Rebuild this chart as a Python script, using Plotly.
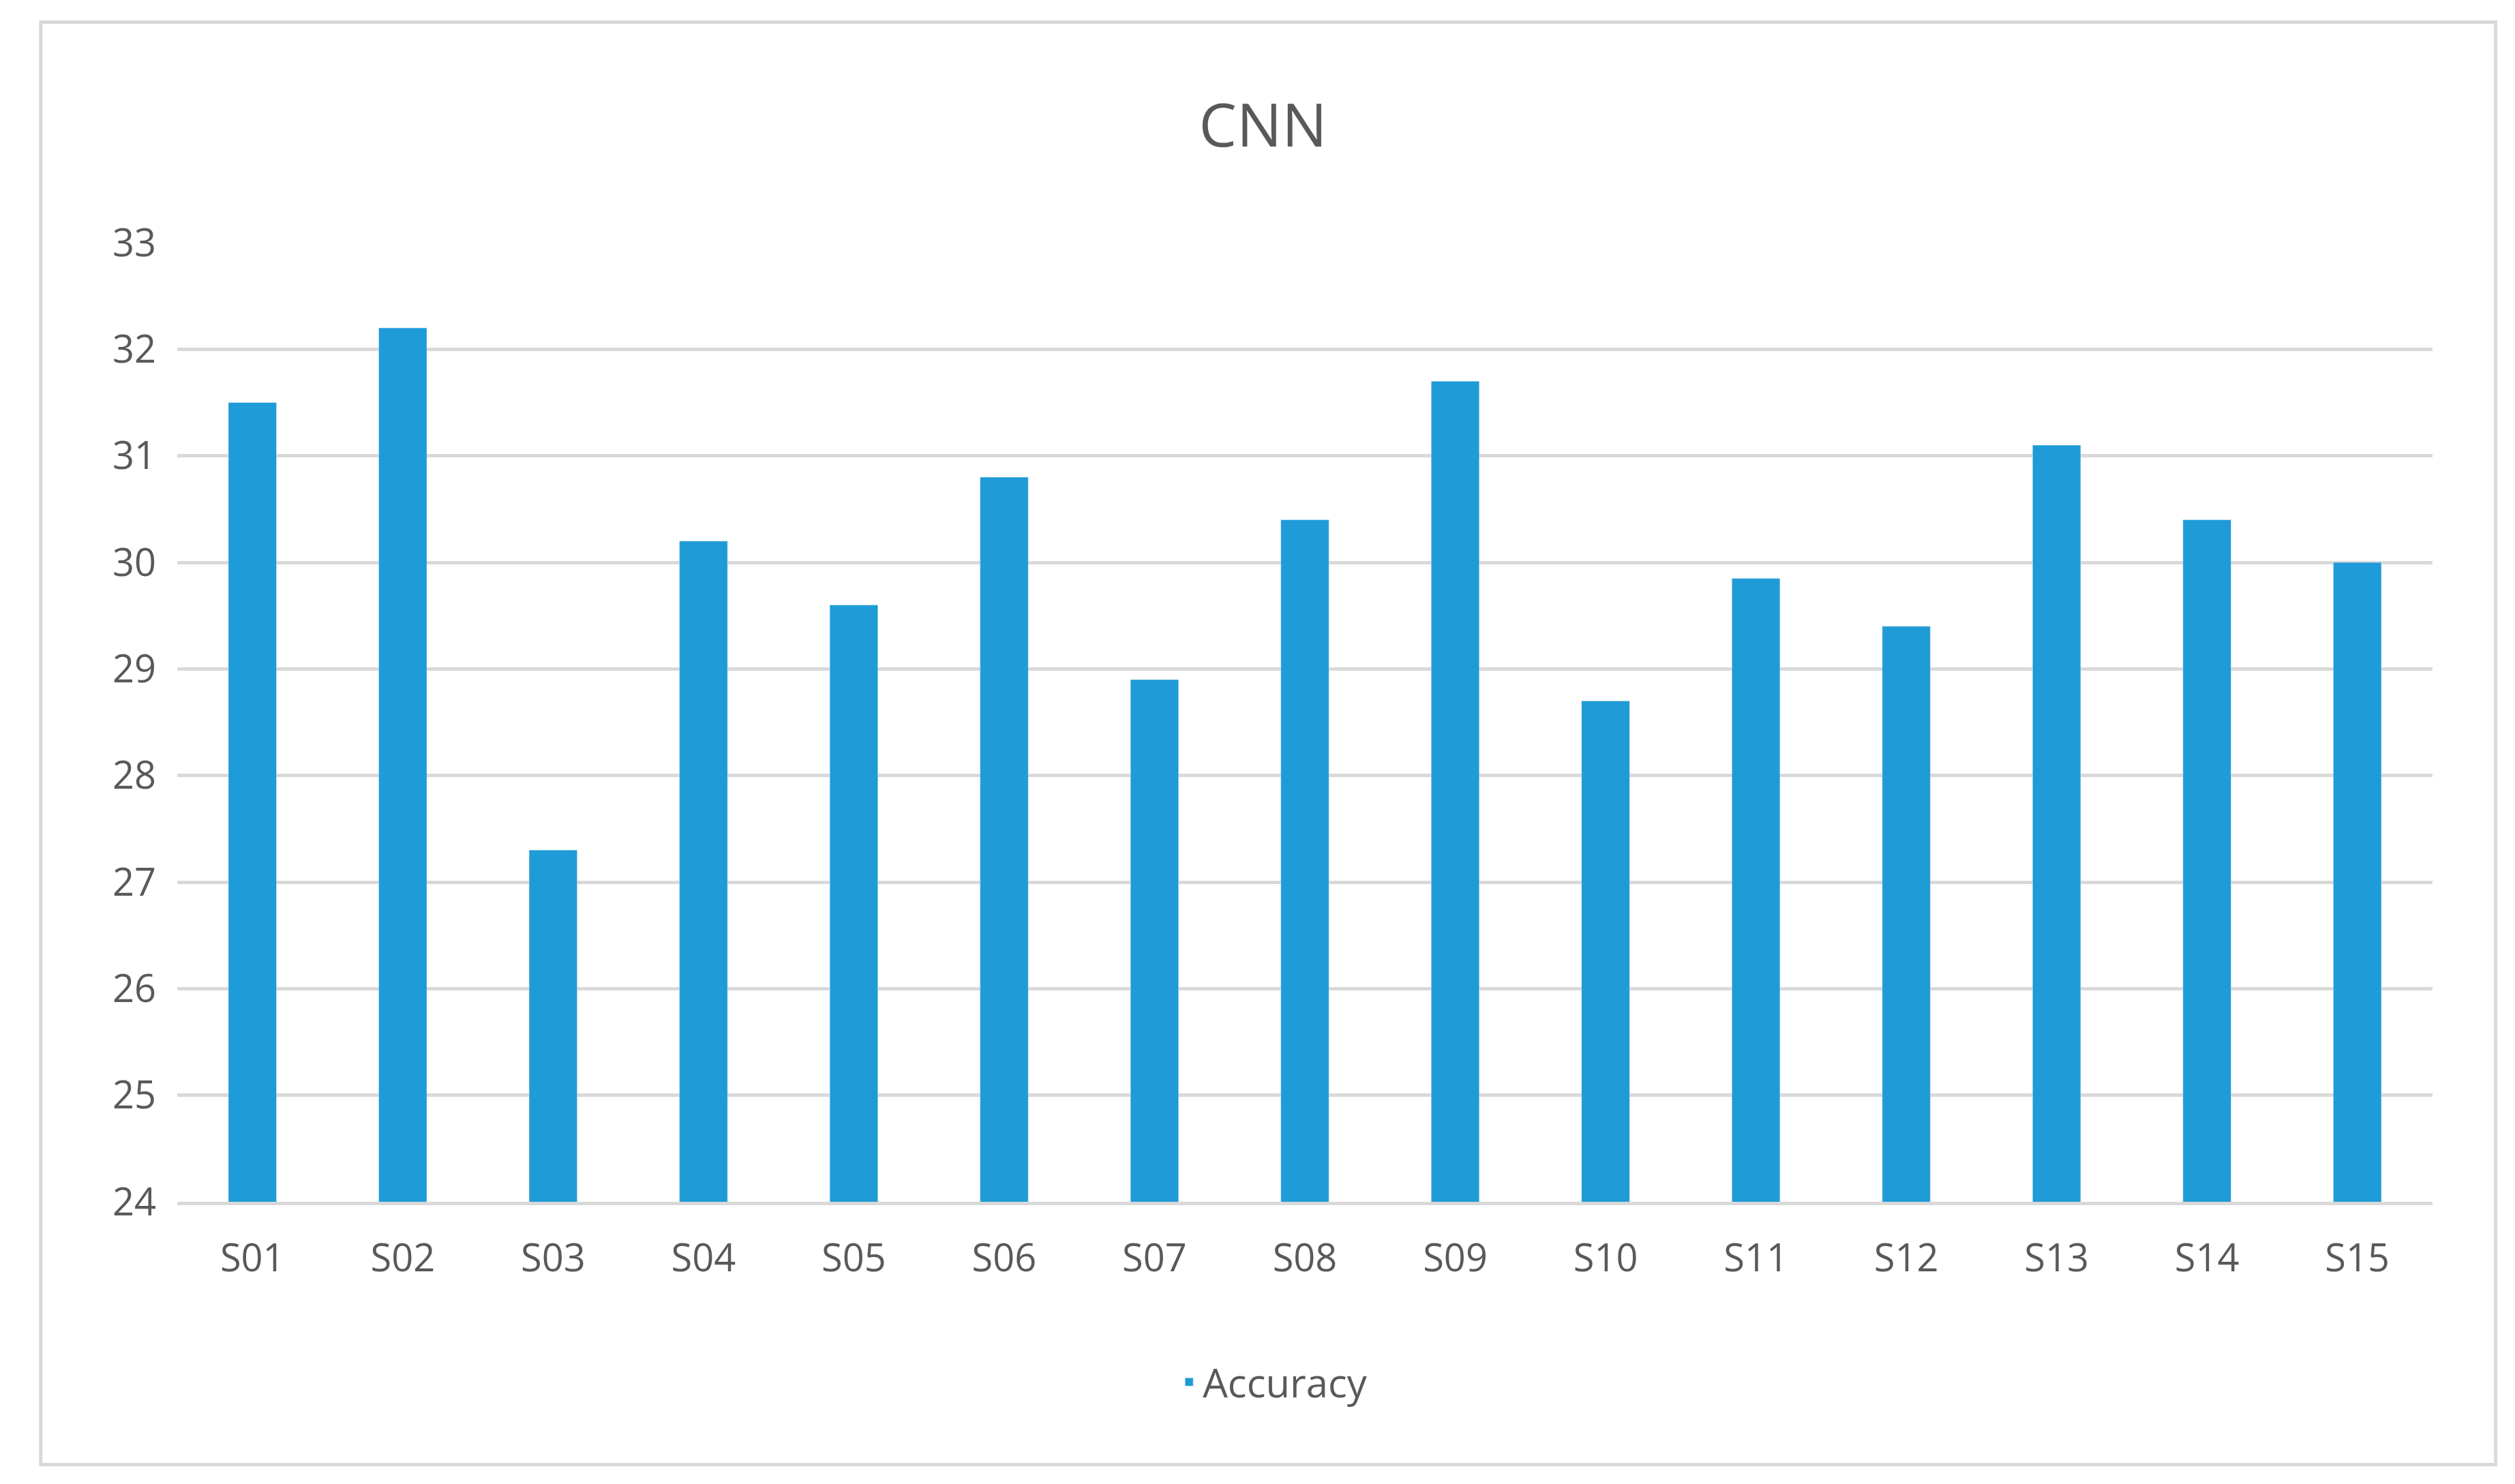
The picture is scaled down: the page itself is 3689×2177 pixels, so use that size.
import plotly.graph_objects as go

subjects = ["S01", "S02", "S03", "S04", "S05", "S06", "S07", "S08",
            "S09", "S10", "S11", "S12", "S13", "S14", "S15"]
accuracy = [31.5, 32.2, 27.3, 30.2, 29.6, 30.8, 28.9, 30.4,
            31.7, 28.7, 29.85, 29.4, 31.1, 30.4, 30.0]

fig = go.Figure(data=[go.Bar(x=subjects, y=accuracy, name="Accuracy",
                             marker_color="#1f9bd7", showlegend=True)])

fig.update_layout(
    width=3689, height=2177,
    paper_bgcolor="white", plot_bgcolor="white",
    margin=dict(l=252, r=129, t=348, b=422),
    font=dict(family="Open Sans", color="#595959", size=56),
    title=dict(text="CNN", x=0.5, xanchor="center", y=0.919, yanchor="middle",
               font=dict(size=88, color="#595959")),
    bargap=0.68,
    legend=dict(orientation="h", x=0.486, xanchor="center", y=-0.188,
                yanchor="middle", font=dict(size=58)),
    shapes=[dict(type="rect", xref="paper", yref="paper",
                 x0=-0.0605, x1=1.028, y0=-0.274, y1=1.230,
                 line=dict(color="#d9d9d9", width=5), layer="below")],
)
fig.update_yaxes(range=[24, 33], dtick=1, gridcolor="#d9d9d9", gridwidth=5,
                 zeroline=False, ticks="", ticklabelstandoff=30)
fig.update_xaxes(showline=True, linecolor="#d9d9d9", linewidth=5, ticks="",
                 ticklabelstandoff=30)

fig.write_html("out.html")
